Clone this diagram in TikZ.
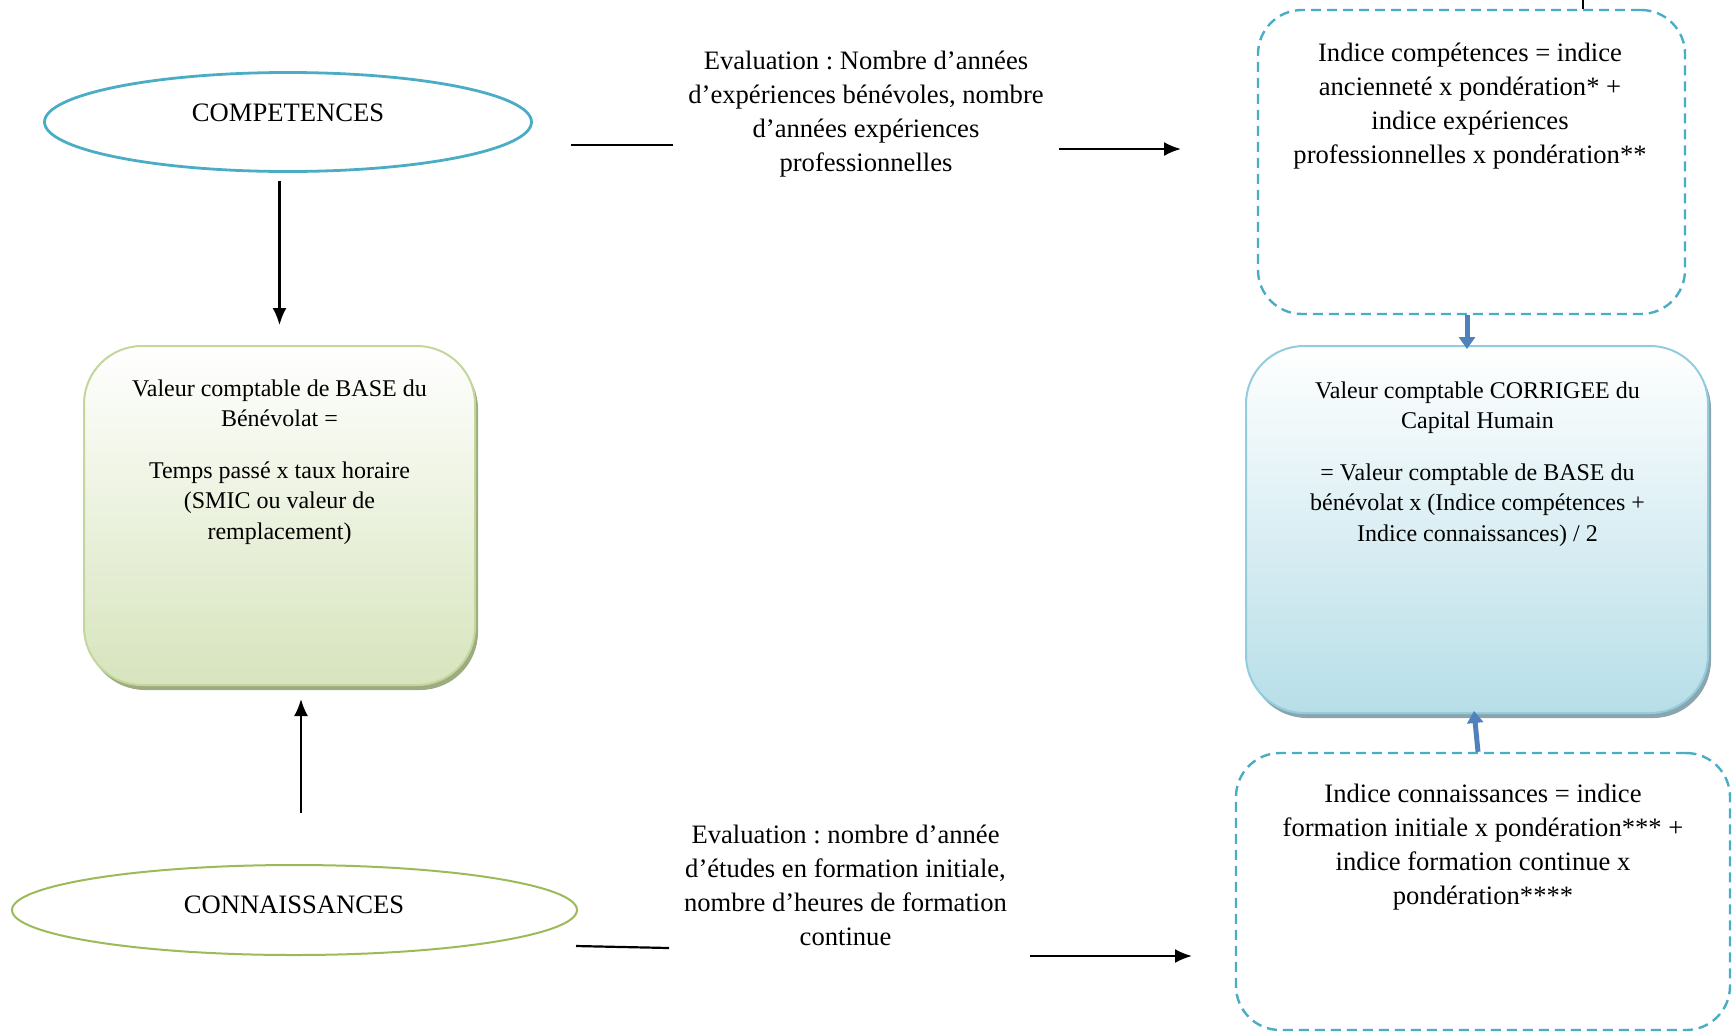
\documentclass[tikz,border=0pt]{standalone}
\usepackage{fontspec}
\setmainfont{Liberation Serif}
\usetikzlibrary{arrows.meta,shapes.geometric,shadows}
\definecolor{cyanc}{HTML}{4BACC6}
\definecolor{greenc}{HTML}{9BBB59}
\definecolor{gborder}{HTML}{C3D69B}
\definecolor{gbottom}{HTML}{D7E4BD}
\definecolor{gshadow}{HTML}{9DAC80}
\definecolor{bborder}{HTML}{93CDDD}
\definecolor{bbottom}{HTML}{B7DEE8}
\definecolor{bshadow}{HTML}{8AA5AD}
\definecolor{arrowblue}{HTML}{4F81BD}
\newcommand{\txtA}{\fontsize{13.3pt}{17pt}\selectfont}
\newcommand{\txtB}{\fontsize{12pt}{15.25pt}\selectfont}
\frenchspacing
\begin{document}
\begin{tikzpicture}[x=0.5pt,y=-0.5pt,
  ellc/.style={ellipse, draw=cyanc, line width=1.4pt, inner sep=0pt, minimum width=243.5pt, minimum height=49.5pt},
  ellg/.style={ellipse, draw=greenc, line width=1pt, inner sep=0pt, minimum width=282.5pt, minimum height=45pt},
  lbl/.style={inner sep=0pt, font=\txtA, align=center},
  boxlbl/.style={inner sep=0pt, font=\txtB, align=center, anchor=north},
  dbox/.style={rectangle, draw=cyanc, line width=1.2pt, dash pattern=on 5pt off 3pt, rounded corners=22pt, inner sep=0pt},
  gbox/.style={rectangle, rounded corners=29pt, draw=gborder, line width=1pt, top color=white, bottom color=gbottom,
    general shadow={fill=gshadow, shadow xshift=1.5pt, shadow yshift=-2.5pt}, inner sep=0pt},
  bbox/.style={rectangle, rounded corners=29pt, draw=bborder, line width=1pt, top color=white, bottom color=bbottom,
    general shadow={fill=bshadow, shadow xshift=1.5pt, shadow yshift=-2.5pt}, inner sep=0pt},
  arr/.style={-{Latex[length=8.5pt,width=7pt]}, line width=1.1pt},
  plain/.style={line width=1.1pt},
  barr/.style={-{Triangle[length=6pt,width=8pt]}, line width=2.5pt, draw=arrowblue}]
\useasboundingbox (0,0) rectangle (1733,1034);

% ellipses
\node[ellc] (comp) at (288,122) {};
\node[lbl] (compt) at (288,113) {COMPETENCES};
\node[ellg] (conn) at (294.5,910) {};
\node[lbl] (connt) at (294,905) {CONNAISSANCES};

% base box
\node[gbox, minimum width=195.5pt, minimum height=169.5pt] (base) at (279.5,515.5) {};
\node[boxlbl] (baset) at (279.5,379) {Valeur comptable de BASE du\\ Bénévolat =\\[10.5pt] Temps passé x taux horaire\\ (SMIC ou valeur de\\ remplacement)};

% corrected box
\node[bbox, minimum width=231pt, minimum height=183.5pt] (corr) at (1477,529.5) {};
\node[boxlbl] (corrt) at (1477.5,381) {Valeur comptable CORRIGEE du\\ Capital Humain\\[10.5pt] = Valeur comptable de BASE du\\ bénévolat x (Indice compétences +\\ Indice connaissances) / 2};

% dashed boxes
\node[dbox, minimum width=213.5pt, minimum height=152pt] (icomp) at (1471.5,162) {};
\node[lbl, anchor=north] (icompt) at (1470,42.5) {Indice compétences = indice\\ ancienneté x pondération* +\\ indice expériences\\ professionnelles x pondération**};
\node[dbox, minimum width=247pt, minimum height=138.5pt] (iconn) at (1483,891.5) {};
\node[lbl, anchor=north] (iconnt) at (1483,783.5) {Indice connaissances = indice\\ formation initiale x pondération*** +\\ indice formation continue x\\ pondération****};

% evaluation texts
\node[lbl, anchor=north] (evalc) at (866,50.5) {Evaluation : Nombre d’années\\ d’expériences bénévoles, nombre\\ d’années expériences\\ professionnelles};
\node[lbl, anchor=north] (evalk) at (845.5,824.5) {Evaluation : nombre d’année\\ d’études en formation initiale,\\ nombre d’heures de formation\\ continue};

% connector ends
\coordinate (c1) at (571,145);
\coordinate (c2) at (673,145);
\coordinate (c3) at (1059,149);
\coordinate (c4) at (1181,149);
\coordinate (k1) at (576,946);
\coordinate (k2) at (669,948);
\coordinate (k3) at (1030,956);
\coordinate (k4) at (1192,956);
\coordinate (tk) at (1583,0);

\draw[plain] (c1) -- (c2);
\draw[arr] (c3) -- (c4);
\draw[plain] (k1) -- (k2);
\draw[arr] (k3) -- (k4);
\draw[plain] (tk) -- (tk |- icomp.north);

\draw[arr] ([yshift=-4pt]comp.south -| base.north) -- ([yshift=10pt]base.north);
\draw[arr] ([xshift=3.25pt,yshift=25.5pt]conn.north) -- ([xshift=10.75pt,yshift=-6.5pt]base.south);

\draw[barr] ([xshift=-2.25pt]icomp.south) -- ([xshift=-5pt,yshift=-2pt]corr.north);
\draw[barr] ([xshift=-2.5pt]iconn.north) -- ([xshift=-1.5pt,yshift=1.5pt]corr.south);
\end{tikzpicture}
\end{document}
